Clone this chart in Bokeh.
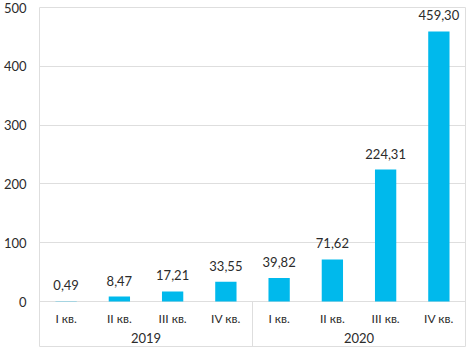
from bokeh.plotting import figure
from bokeh.models import FactorRange, Range1d, ColumnDataSource
from bokeh.core.properties import value
from bokeh.embed import file_html
from bokeh.resources import INLINE

years = ["2019", "2020"]
quarters = ["I кв.", "II кв.", "III кв.", "IV кв."]
values = [0.49, 8.47, 17.21, 33.55, 39.82, 71.62, 224.31, 459.30]
value_labels = ["0,49", "8,47", "17,21", "33,55", "39,82", "71,62", "224,31", "459,30"]
y_ticks = [0, 100, 200, 300, 400, 500]

FONT = "Lato"
TEXT_COLOR = "#2b2b2b"
BAR_COLOR = "#00B9EC"
LINE_COLOR = "#dedede"

factors = [(y, q) for y in years for q in quarters]
quarter_names = [q for _, q in factors]

x_range = FactorRange(*factors, factor_padding=0, group_padding=0, range_padding=0)
p = figure(x_range=x_range, y_range=Range1d(-78.2, 500),
           width=469, height=347, output_backend="svg", toolbar_location=None,
           x_axis_location=None, min_border_left=36, min_border_right=4,
           min_border_top=7, min_border_bottom=0)

p.outline_line_color = LINE_COLOR
p.xgrid.visible = False
p.ygrid.grid_line_color = LINE_COLOR
p.yaxis.ticker = y_ticks
p.yaxis.axis_line_color = None
p.yaxis.major_tick_line_color = None
p.yaxis.minor_tick_line_color = None
p.yaxis.major_tick_out = 0
p.yaxis.major_tick_in = 0
p.yaxis.major_label_standoff = 13
p.yaxis.major_label_text_font = FONT
p.yaxis.major_label_text_font_size = "13px"
p.yaxis.major_label_text_color = TEXT_COLOR

src = ColumnDataSource(dict(x=factors, top=values, lbl=value_labels, q=quarter_names))

p.vbar(x="x", top="top", width=0.4, source=src, fill_color=BAR_COLOR, line_color=None)

p.text(x="x", y="top", text="lbl", source=src, text_align="center", text_baseline="middle",
       y_offset=-16, text_font=value(FONT), text_font_size="13px", text_color=TEXT_COLOR)

p.text(x="x", y=0, text="q", source=src, text_align="center", text_baseline="middle",
       y_offset=17, text_font=value(FONT), text_font_size="12px", text_color=TEXT_COLOR)

p.text(x=years, y=[0] * len(years), text=years, text_align="center", text_baseline="middle",
       y_offset=36, text_font=value(FONT), text_font_size="13px", text_color=TEXT_COLOR)

sep = [(years[0], quarters[-1], 0.5)]
p.segment(x0=sep, y0=[-78.2], x1=sep, y1=[0], line_color=LINE_COLOR, line_width=1)

open("out.html", "w").write(file_html(p, INLINE))
